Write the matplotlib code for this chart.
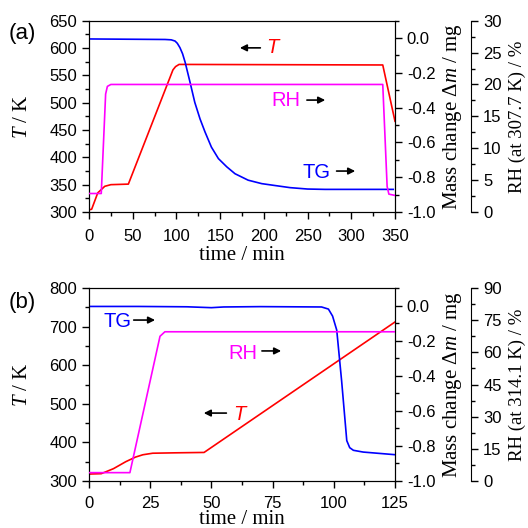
import numpy as np
import matplotlib
matplotlib.use("Agg")
import matplotlib.pyplot as plt
from matplotlib.ticker import MultipleLocator, FormatStrFormatter

plt.rcParams['font.family'] = ['Liberation Sans', 'DejaVu Sans']
plt.rcParams['axes.unicode_minus'] = False
plt.rcParams['mathtext.fontset'] = 'custom'
plt.rcParams['mathtext.rm'] = 'Liberation Serif'
plt.rcParams['mathtext.it'] = 'Liberation Serif:italic'

# panel (a) data
t_a_T = [0, 3, 10, 18, 25, 45, 96, 99, 103, 336, 350]
T_a = [304, 305, 335, 347, 350, 351, 560, 566, 570, 569, 466]

t_a_rh = [0, 14, 19, 21, 25, 336, 341, 343, 350]
rh_a = [2.9, 2.9, 18.5, 19.7, 20.0, 20.0, 4.0, 2.8, 2.6]

t_a_tg = [0, 87, 94, 98.4, 101, 104, 107, 110, 115.6, 121, 127, 132.7, 140, 148,
          157.5, 167, 182, 197.6, 213, 230, 250, 270, 348]
tg_a = [-0.005, -0.008, -0.01, -0.017, -0.03, -0.055, -0.09, -0.14, -0.255, -0.37,
        -0.465, -0.54, -0.627, -0.693, -0.74, -0.78, -0.817, -0.837, -0.848, -0.86,
        -0.868, -0.87, -0.87]

# panel (b) data
t_b_T = [0, 5, 10, 15, 19, 22, 26, 35, 47, 125]
T_b = [318, 319, 332, 350, 362, 368, 372, 373, 374, 712]

t_b_rh = [0, 16.7, 29, 31, 125]
rh_b = [3.9, 3.9, 67.5, 69.6, 69.6]

t_b_tg = [0, 20, 40, 50, 55, 70, 95, 97.8, 99.5, 101.2, 103.2, 105.3, 106.5, 108, 112, 125]
tg_b = [-0.005, -0.005, -0.007, -0.012, -0.008, -0.006, -0.008, -0.02, -0.06, -0.14,
        -0.43, -0.77, -0.81, -0.825, -0.835, -0.85]

serif = 'Liberation Serif'
lw = 1.2
tick_fs = 12


def style_ticks(a):
    a.tick_params(which='both', direction='out', labelsize=tick_fs, width=1)
    a.tick_params(which='major', length=5)
    a.tick_params(which='minor', length=3)


def panel(rect, xmax, xmaj, tlim, tmaj, rhmax, rhmaj, rh_label,
          tT, T, trh, rh, ttg, tg, xpad=7, xlabelpad=2):
    ax = fig.add_axes(rect)
    ax.plot(tT, T, color='red', lw=lw)
    ax.set_xlim(0, xmax)
    ax.set_ylim(*tlim)
    ax.xaxis.set_major_locator(MultipleLocator(xmaj))
    ax.xaxis.set_minor_locator(MultipleLocator(xmaj / 2))
    ax.yaxis.set_major_locator(MultipleLocator(tmaj))
    ax.yaxis.set_minor_locator(MultipleLocator(tmaj / 2))
    style_ticks(ax)
    ax.tick_params(which='both', top=False, right=False)
    ax.tick_params(axis='x', which='major', pad=xpad)
    ax.set_xlabel('time / min', family=serif, fontsize=15, labelpad=xlabelpad)
    ax.set_ylabel('$T$ / K', family=serif, fontsize=15)
    ax.yaxis.set_label_coords(-0.186, 0.5)

    axm = ax.twinx()
    axm.plot(ttg, tg, color='blue', lw=lw)
    axm.set_ylim(-1.0, 0.1)
    axm.set_yticks([-1.0, -0.8, -0.6, -0.4, -0.2, 0.0])
    axm.yaxis.set_minor_locator(MultipleLocator(0.1))
    axm.yaxis.set_major_formatter(FormatStrFormatter('%.1f'))
    style_ticks(axm)
    axm.set_ylabel('Mass change Δ$m$ / mg', family=serif, fontsize=15)
    axm.yaxis.set_label_coords(1.150, 0.5)

    axr = ax.twinx()
    axr.plot(trh, rh, color='magenta', lw=lw)
    axr.set_ylim(0, rhmax)
    axr.spines['right'].set_position(('outward', 55))
    for s in ['top', 'left', 'bottom']:
        axr.spines[s].set_visible(False)
    axr.yaxis.set_major_locator(MultipleLocator(rhmaj))
    axr.yaxis.set_minor_locator(MultipleLocator(rhmaj / 2))
    style_ticks(axr)
    axr.set_ylabel(rh_label, family=serif, fontsize=13.5)
    axr.yaxis.set_label_coords(1.372, 0.5)
    return ax


def tag(ax, text, color, pos, tail, head, italic=False):
    ax.text(pos[0], pos[1], text, color=color, fontsize=14.5,
            fontstyle='italic' if italic else 'normal',
            ha='center', va='center', transform=ax.transAxes)
    ax.annotate('', xy=head, xytext=tail, xycoords='axes fraction',
                textcoords='axes fraction',
                arrowprops=dict(arrowstyle='-|>', color='black', lw=1.2,
                                mutation_scale=10))


fig = plt.figure(figsize=(5.28, 5.28), dpi=100)

ax_a = panel([0.1686, 0.5985, 0.5795, 0.3623], 350, 50, (300, 650), 50, 30, 5,
             'RH (at 307.7 K) / %', t_a_T, T_a, t_a_rh, rh_a, t_a_tg, tg_a)
tag(ax_a, 'T', 'red', (0.598, 0.862), (0.569, 0.858), (0.484, 0.858), italic=True)
tag(ax_a, 'RH', 'magenta', (0.644, 0.585), (0.703, 0.585), (0.781, 0.585))
tag(ax_a, 'TG', 'blue', (0.745, 0.209), (0.80, 0.214), (0.879, 0.214))

ax_b = panel([0.1686, 0.0890, 0.5795, 0.3655], 125, 25, (300, 800), 100, 90, 15,
             'RH (at 314.1 K) / %', t_b_T, T_b, t_b_rh, rh_b, t_b_tg, tg_b,
             xpad=6, xlabelpad=-1)
tag(ax_b, 'TG', 'blue', (0.092, 0.829), (0.137, 0.834), (0.225, 0.834))
tag(ax_b, 'RH', 'magenta', (0.503, 0.663), (0.556, 0.674), (0.637, 0.674))
tag(ax_b, 'T', 'red', (0.49, 0.347), (0.458, 0.352), (0.366, 0.352), italic=True)

fig.text(0.042, 0.9375, '(a)', fontsize=16, ha='center', va='center')
fig.text(0.042, 0.428, '(b)', fontsize=16, ha='center', va='center')

fig.savefig('out.png', dpi=100)
